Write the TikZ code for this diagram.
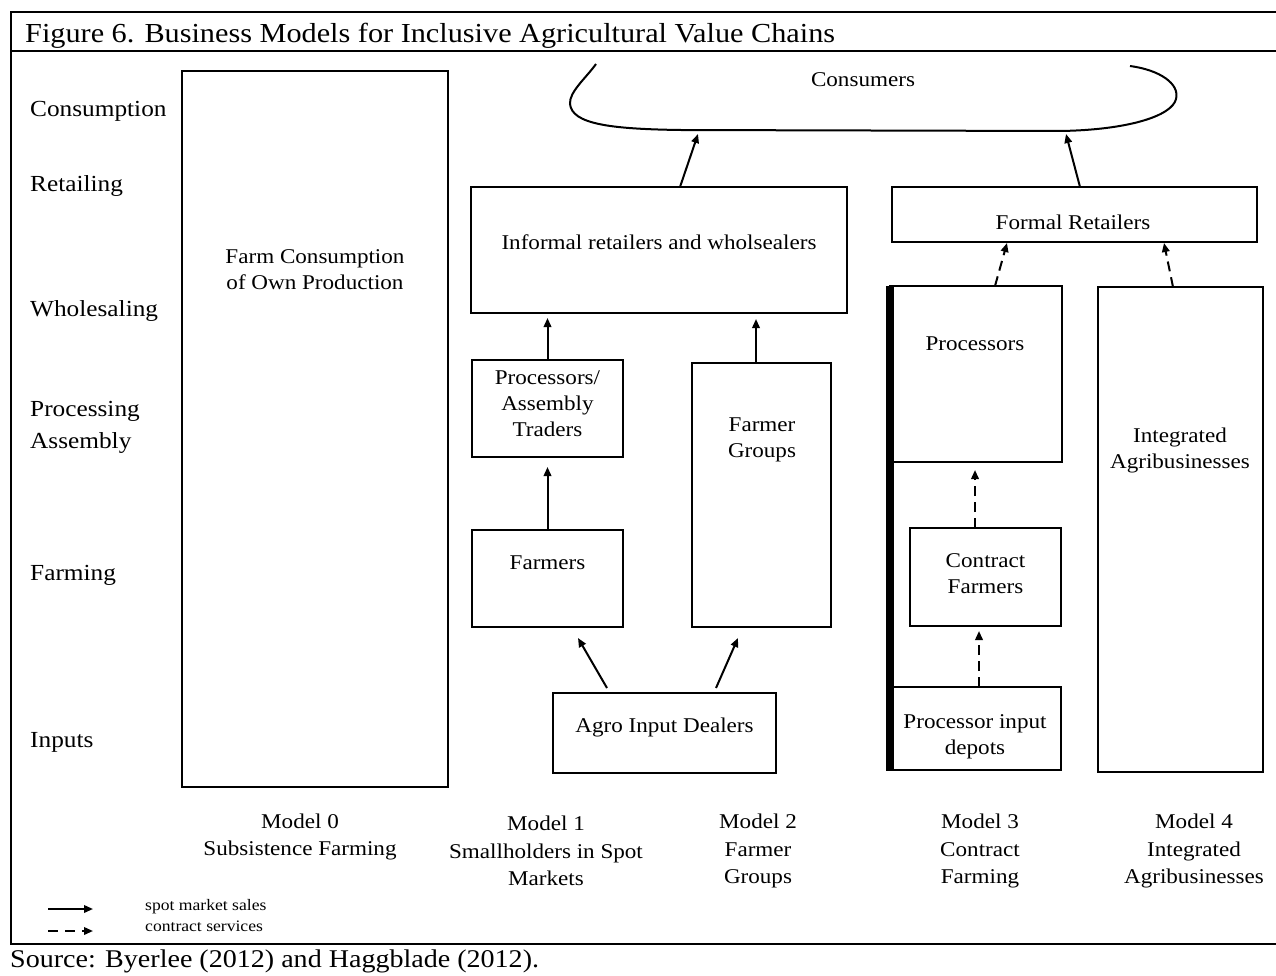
\documentclass[tikz,border=0pt]{standalone}
\usepackage{fontspec}
\setmainfont[FakeStretch=1.1]{Liberation Serif}
\usetikzlibrary{arrows.meta,calc}

\begin{document}
\begin{tikzpicture}[x=1pt,y=-1pt,
  box/.style={draw,line width=2pt,inner sep=0pt,outer sep=0pt},
  txt/.style={align=center,inner sep=0pt,font=\fontsize{21}{26}\selectfont},
  rowlab/.style={anchor=west,inner sep=0pt,font=\fontsize{23}{28}\selectfont,text height=15pt,text depth=5pt},
  modlab/.style={align=center,inner sep=0pt,font=\fontsize{21}{27.5}\selectfont},
  leglab/.style={anchor=west,inner sep=0pt,font=\fontsize{16}{18}\selectfont},
  spot/.style={line width=2pt,-{Triangle[length=9pt,width=7.5pt]}},
  contr/.style={spot,dash pattern=on 10pt off 6pt},
  frameline/.style={line width=1.8pt}
]
\useasboundingbox (0,0) rectangle (1276,976);

% outer frame with title band
\coordinate (f-tl) at (11,12);
\coordinate (f-tr) at (1276,12);
\coordinate (f-ml) at (11,51);
\coordinate (f-mr) at (1276,51);
\coordinate (f-bl) at (11,944);
\coordinate (f-br) at (1276,944);
\draw[frameline] (f-tr) -- (f-tl) -- (f-bl) -- (f-br);
\draw[frameline] (f-ml) -- (f-mr);

\node[anchor=base west,inner sep=0pt,font=\fontsize{27.5}{32}\selectfont] (title) at (25,43)
  {Figure 6. Business Models for Inclusive Agricultural Value Chains};
\node[anchor=base west,inner sep=0pt,font=\fontsize{25.5}{30}\selectfont] (source) at (10,967)
  {Source: Byerlee (2012) and Haggblade (2012).};

% stage labels
\node[rowlab] (r-cons) at (30,112) {Consumption};
\node[rowlab] (r-ret)  at (30,187) {Retailing};
\node[rowlab] (r-whol) at (30,311) {Wholesaling};
\node[rowlab] (r-proc) at (30,411) {Processing};
\node[rowlab] (r-ass)  at (30,443) {Assembly};
\node[rowlab] (r-farm) at (30,575) {Farming};
\node[rowlab] (r-inp)  at (30,742) {Inputs};

% consumers
\draw[line width=2pt] (596,64) .. controls (586,78) and (569,92) .. (570,104)
  .. controls (572,124) and (610,129) .. (680,130) -- (1060,131)
  .. controls (1128,130) and (1172,116) .. (1176,99)
  .. controls (1180,84) and (1160,70) .. (1130,66);
\node[txt] (consumers) at (863,80) {Consumers};
\coordinate (cons-a) at (698,134);
\coordinate (cons-b) at (1066,134);

% Model 0
\node[box,minimum width=266pt,minimum height=716pt] (m0) at (315,429) {};
\node[txt] (m0-t) at (315,270) {Farm Consumption\\of Own Production};

% Models 1 and 2
\node[box,minimum width=376pt,minimum height=126pt] (informal) at (659,250) {};
\node[txt] (informal-t) at (659,242) {Informal retailers and wholsealers};
\node[box,minimum width=151pt,minimum height=97pt] (proc) at (547.5,408.5) {};
\node[txt] (proc-t) at (547.5,404) {Processors/\\Assembly\\Traders};
\node[box,minimum width=151pt,minimum height=97pt] (farmers) at (547.5,578.5) {};
\node[txt] (farmers-t) at (547.5,563) {Farmers};
\node[box,minimum width=139pt,minimum height=264pt] (groups) at (761.5,495) {};
\node[txt] (groups-t) at (762,440) {Farmer\\Groups};
\node[box,minimum width=223pt,minimum height=80pt] (agro) at (664.5,733) {};
\node[txt] (agro-t) at (664.5,727) {Agro Input Dealers};

% Models 3 and 4
\node[box,minimum width=365pt,minimum height=55pt] (formal) at (1074.5,214.5) {};
\node[txt] (formal-t) at (1073,222) {Formal Retailers};
\node[box,minimum width=172pt,minimum height=176pt] (procs) at (976,374) {};
\node[txt] (procs-t) at (975,344) {Processors};
\node[box,minimum width=151pt,minimum height=98pt] (contract) at (985.5,577) {};
\node[txt] (contract-t) at (985.5,574) {Contract\\Farmers};
\node[box,minimum width=171pt,minimum height=83pt] (depots) at (975.5,728.5) {};
\node[txt] (depots-t) at (975,737) {Processor input\\depots};
\node[fill=black,inner sep=0pt,minimum width=8pt,minimum height=485pt] (bar) at (890,528.5) {};
\node[box,minimum width=165pt,minimum height=485pt] (integ) at (1180.5,529.5) {};
\node[txt] (integ-t) at (1180,450) {Integrated\\Agribusinesses};

% spot market flows
\draw[spot] ([xshift=21pt]informal.north) -- (cons-a);
\draw[spot] ([xshift=5.5pt]formal.north) -- (cons-b);
\draw[spot] (proc.north) -- ([yshift=-5pt]proc.north |- informal.south);
\draw[spot] ([xshift=-5.5pt]groups.north) -- ([xshift=-5.5pt,yshift=-6pt]groups.north |- informal.south);
\draw[spot] (farmers.north) -- ([yshift=-10pt]farmers.north |- proc.south);
\draw[spot] ([xshift=-57.5pt,yshift=5pt]agro.north) -- ([xshift=30.5pt,yshift=-11pt]farmers.south);
\draw[spot] ([xshift=51.5pt,yshift=5pt]agro.north) -- ([xshift=-23.5pt,yshift=-11pt]groups.south);

% contract flows
\draw[contr] ([xshift=3.5pt]depots.north) -- ([xshift=-6.5pt,yshift=-5pt]contract.south);
\draw[contr] ([xshift=-10.5pt]contract.north) -- ([xshift=-1pt,yshift=-8pt]procs.south);
\draw[contr] ([xshift=19pt]procs.north) -- ([xshift=-67.5pt,yshift=-1pt]formal.south);
\draw[contr] ([xshift=-7.5pt]integ.north) -- ([xshift=89.5pt,yshift=-1pt]formal.south);

% model captions
\node[modlab] (cap0) at (300,837) {Model 0\\Subsistence Farming};
\node[modlab] (cap1) at (546,851) {Model 1\\Smallholders in Spot\\Markets};
\node[modlab] (cap2) at (758,851) {Model 2\\Farmer\\Groups};
\node[modlab] (cap3) at (980,851) {Model 3\\Contract\\Farming};
\node[modlab] (cap4) at (1194,851) {Model 4\\Integrated\\Agribusinesses};

% legend
\coordinate (lg-s1) at (48,909);
\coordinate (lg-s2) at (93,909);
\coordinate (lg-c1) at (48,931);
\coordinate (lg-c2) at (93,931);
\draw[spot] (lg-s1) -- (lg-s2);
\draw[spot,dash pattern=on 10pt off 7pt] (lg-c1) -- (lg-c2);
\node[leglab] (lg-st) at (145,907) {spot market sales};
\node[leglab] (lg-ct) at (145,926) {contract services};
\end{tikzpicture}
\end{document}
